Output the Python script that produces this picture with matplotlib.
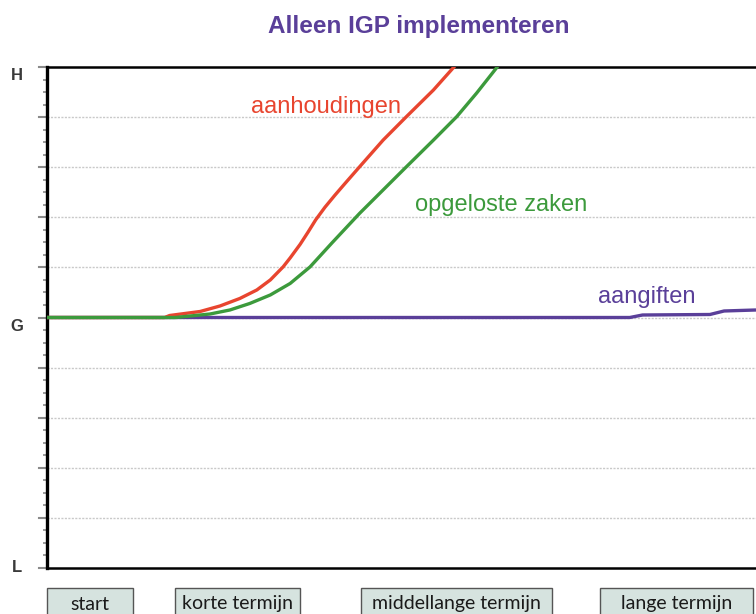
import matplotlib
matplotlib.use("Agg")
import matplotlib.pyplot as plt
from matplotlib.patches import Rectangle
import matplotlib.transforms as mtransforms

# ---- data (x: 0..100 time scale, y: L=0, G=5, H=10) ----
red_x = [0, 16.6, 17.3, 21.6, 24.4, 27.2, 29.6, 31.5, 33.3, 34.3, 35.7, 36.8,
         37.9, 39.2, 40.6, 42.0, 44.1, 47.4, 50.7, 54.5, 57.4]
red_y = [5.0, 5.0, 5.04, 5.12, 5.23, 5.38, 5.55, 5.75, 6.01, 6.19, 6.46, 6.70,
         6.95, 7.20, 7.44, 7.67, 8.01, 8.54, 9.01, 9.54, 10.0]
green_x = [0, 18.1, 18.8, 23.0, 25.8, 28.6, 31.5, 34.3, 37.1, 40.2, 44.1,
           50.7, 54.5, 57.8, 60.6, 63.5]
green_y = [5.0, 5.0, 5.01, 5.07, 5.15, 5.28, 5.45, 5.68, 6.01, 6.49, 7.08,
           8.01, 8.54, 9.01, 9.48, 10.0]
purple_x = [0, 82.2, 84.0, 93.5, 95.5, 100]
purple_y = [5.0, 5.0, 5.05, 5.06, 5.13, 5.15]

series_names = ["aanhoudingen", "opgeloste zaken", "aangiften"]
ytick_vals = [0, 5, 10]
ytick_labels = ["L", "G", "H"]
periods = ["start", "korte termijn", "middellange termijn", "lange termijn"]
title = "Alleen IGP implementeren"

RED = "#e8452f"
GREEN = "#3c9a3c"
PURPLE = "#5a3f99"

plt.rcParams['font.family'] = ['Liberation Sans', 'DejaVu Sans']

fig = plt.figure(figsize=(7.56, 6.14), dpi=100)
ax = fig.add_axes([47/756, 46/614, 1 - 47/756, (568-67)/614])

ax.set_xlim(0, 100)
ax.set_ylim(0, 10)

# grid
for yv in range(1, 10):
    ax.axhline(yv, color="#c9c9c9", lw=1.0, ls=(0, (1.5, 1.0)), zorder=1)

ax.plot(purple_x, purple_y, color=PURPLE, lw=2.4, zorder=3, solid_capstyle='butt')
ax.plot(red_x, red_y, color=RED, lw=2.4, zorder=4, solid_joinstyle='round')
ax.plot(green_x, green_y, color=GREEN, lw=2.4, zorder=5, solid_joinstyle='round')

# labels
ax.text(39.3, 9.2, series_names[0], color=RED, fontsize=17, ha="center", va="center")
ax.text(64.0, 7.25, series_names[1], color=GREEN, fontsize=17, ha="center", va="center")
ax.text(84.6, 5.41, series_names[2], color=PURPLE, fontsize=17, ha="center", va="center")

# spines
for s in ["left", "top", "bottom"]:
    ax.spines[s].set_color("black")
ax.spines["left"].set_linewidth(2.4)
ax.spines["top"].set_linewidth(1.8)
ax.spines["bottom"].set_linewidth(1.8)
ax.spines["right"].set_visible(False)

# ticks
ax.set_xticks([])
ax.set_yticks(ytick_vals)
ax.set_yticklabels([])
ax.set_yticks([v * 0.25 for v in range(41) if v % 4 != 0], minor=True)
ax.yaxis.set_tick_params(which="major", length=0)
ax.yaxis.set_tick_params(which="minor", length=3, width=1.2, color="#8a8a8a", direction="out")
blend = mtransforms.blended_transform_factory(ax.transAxes, ax.transData)
for yv in range(0, 11):
    ax.plot([-0.011, 0], [yv, yv], transform=blend,
            color="#8a8a8a", lw=1.5, clip_on=False, zorder=0)

# H / G / L labels
label_dy = {10: -8, 5: -9, 0: 0}
for yv, lab in zip(ytick_vals, ytick_labels):
    off = mtransforms.offset_copy(blend, fig=fig, x=0, y=label_dy[yv], units="dots")
    ax.text(-0.042, yv, lab, transform=off, fontsize=12, fontweight="bold",
            color="#3a3a3a", ha="center", va="center")

# title
fig.text(419/756, 1 - 27/614, title, color=PURPLE, fontsize=17.5, fontweight="bold",
         ha="center", va="center")

# period boxes
box_x = [(47, 133), (175, 300), (361, 552), (600, 753)]
for (x0, x1), lab in zip(box_x, periods):
    fig.patches.append(Rectangle((x0/756, -0.01), (x1-x0)/756, (614-588)/614 + 0.01,
                                 transform=fig.transFigure, facecolor="#d6e3df",
                                 edgecolor="#555555", lw=1.0))
    fig.text((x0+x1)/2/756, 1 - 604/614, lab, fontsize=14, ha="center", va="center",
             color="#1a1a1a", family=["Lato", "DejaVu Sans"])

fig.savefig("out.png", dpi=100)
